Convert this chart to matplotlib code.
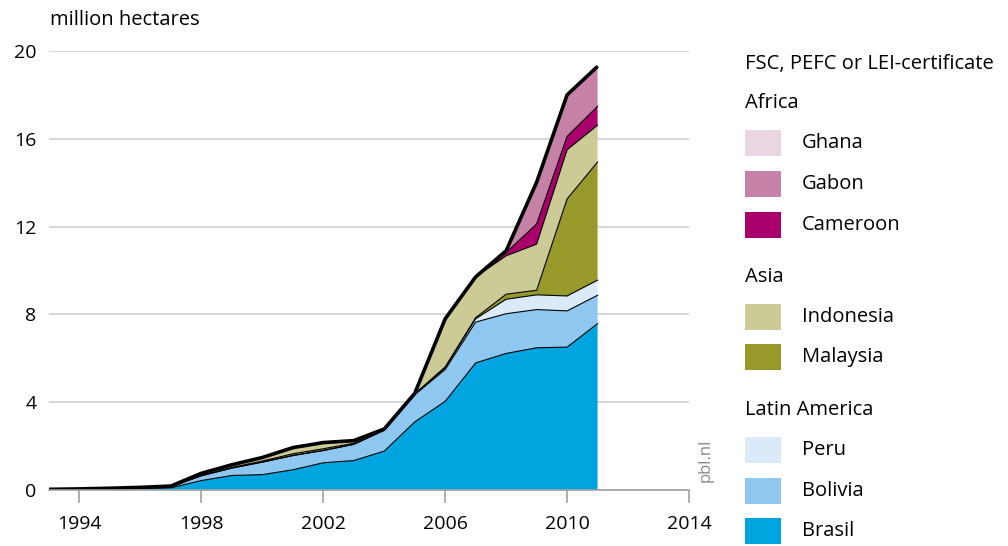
import numpy as np
import matplotlib.pyplot as plt
from matplotlib.patches import Rectangle

plt.rcParams['font.family'] = ['Open Sans', 'DejaVu Sans']

# Data (million hectares, certified forest area)
years = list(range(1993, 2012))
brasil = [0.02, 0.03, 0.05, 0.07, 0.10, 0.43, 0.66, 0.70, 0.92, 1.24, 1.34, 1.77, 3.10, 4.04, 5.79, 6.22, 6.48, 6.51, 7.58]
bolivia = [0.01, 0.01, 0.02, 0.03, 0.05, 0.22, 0.34, 0.57, 0.65, 0.56, 0.74, 0.95, 1.24, 1.45, 1.86, 1.81, 1.74, 1.65, 1.29]
peru = [0, 0, 0, 0, 0, 0, 0, 0, 0, 0, 0, 0, 0.02, 0.07, 0.15, 0.66, 0.67, 0.68, 0.69]
malaysia = [0, 0, 0, 0, 0, 0.01, 0.03, 0.05, 0.08, 0.08, 0.05, 0.03, 0.02, 0.05, 0.05, 0.23, 0.21, 4.42, 5.38]
indonesia = [0, 0.01, 0.01, 0.02, 0.03, 0.10, 0.12, 0.16, 0.28, 0.28, 0.12, 0.03, 0.02, 2.19, 1.86, 1.75, 2.10, 2.24, 1.68]
cameroon = [0] * 15 + [0.15, 0.92, 0.61, 0.86]
gabon = [0] * 15 + [0.08, 1.90, 1.89, 1.82]
ghana = [0] * 19

series = [brasil, bolivia, peru, malaysia, indonesia, cameroon, gabon, ghana]
colors = ['#00a5e0', '#8ec8f0', '#daeaf8', '#979a2a', '#cccb96', '#a9006b', '#c682a6', '#ead5e3']
tops = np.cumsum(series, axis=0)

fig = plt.figure(figsize=(10.08, 5.46), dpi=100)
ax = fig.add_axes([49 / 1008, 1 - 490 / 546, 640 / 1008, 439 / 546])

ax.stackplot(years, series, colors=colors, linewidth=0, zorder=2)
for t in tops[:-1]:
    ax.plot(years, t, color='black', linewidth=0.8, zorder=3)
ax.plot(years, tops[-1], color='black', linewidth=2.6, zorder=3, solid_capstyle='butt')

ax.set_xlim(1993, 2014)
ax.set_ylim(0, 20)
ax.set_yticks([0, 4, 8, 12, 16, 20])
ax.set_xticks([1994, 1998, 2002, 2006, 2010, 2014])
ax.grid(axis='y', color='#d0d0d0', linewidth=1.2, zorder=0)
for s in ['top', 'right', 'left']:
    ax.spines[s].set_visible(False)
ax.spines['bottom'].set_color('#a0a0a0')
ax.spines['bottom'].set_linewidth(1.2)
ax.spines['bottom'].set_zorder(4)
ax.tick_params(axis='y', length=0, pad=9, labelsize=14)
ax.tick_params(axis='x', length=9, width=1.2, color='#a0a0a0', labelsize=14, pad=9)

fig.text(50 / 1008, 1 - 20 / 546, 'million hectares', fontsize=14.5, va='center', ha='left')
fig.text(706 / 1008, 1 - 460 / 546, 'pbl.nl', fontsize=12, color='#888888', rotation=90,
         va='center', ha='center')

# Legend
def fy(y):
    return 1 - y / 546

fig.text(745 / 1008, fy(64), 'FSC, PEFC or LEI-certificate', fontsize=14.5, va='center')
entries = [
    ('Africa', None, 103),
    ('Ghana', '#ead5e3', 143),
    ('Gabon', '#c682a6', 184),
    ('Cameroon', '#a9006b', 225),
    ('Asia', None, 277),
    ('Indonesia', '#cccb96', 317),
    ('Malaysia', '#979a2a', 357),
    ('Latin America', None, 410),
    ('Peru', '#daeaf8', 450),
    ('Bolivia', '#8ec8f0', 491),
    ('Brasil', '#00a5e0', 531),
]
for label, col, y in entries:
    if col is None:
        fig.text(745 / 1008, fy(y), label, fontsize=14.5, va='center')
    else:
        fig.add_artist(Rectangle((745 / 1008, fy(y + 13)), 36 / 1008, 26 / 546,
                                 transform=fig.transFigure, facecolor=col, edgecolor='none'))
        fig.text(802 / 1008, fy(y), label, fontsize=14.5, va='center')

fig.savefig('out.png', dpi=100)
